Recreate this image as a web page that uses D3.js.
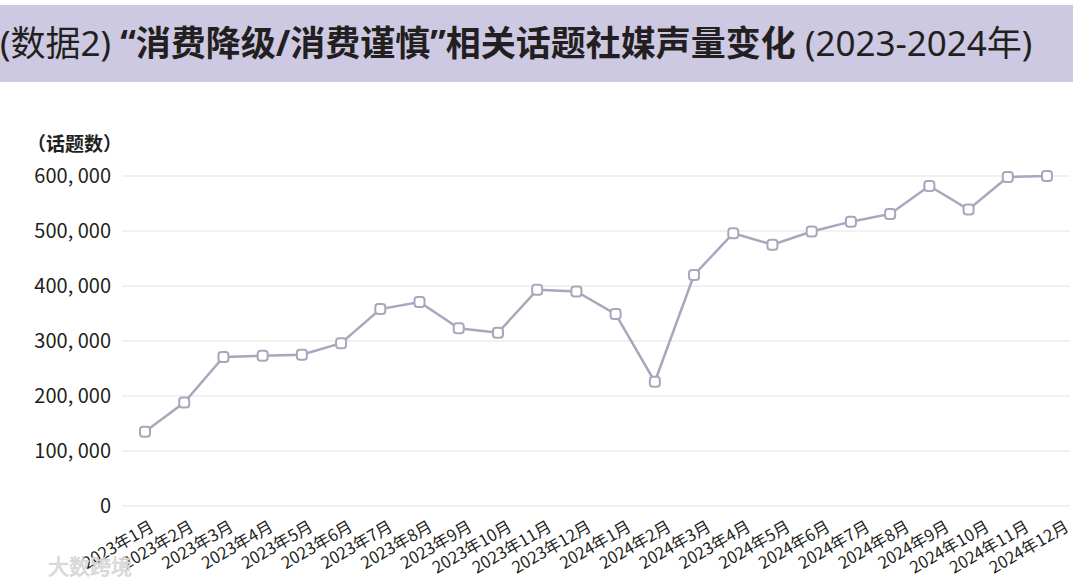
<!DOCTYPE html>
<html><head><meta charset="utf-8">
<script src="https://cdn.jsdelivr.net/npm/d3@7"></script>
<style>
html,body{margin:0;padding:0;background:#fff;}
svg{display:block;font-family:"Noto Sans CJK SC","Noto Sans",sans-serif;}
</style></head>
<body><svg id="c" width="1080" height="584"></svg>
<script>
const months = ["2023年1月","2023年2月","2023年3月","2023年4月","2023年5月","2023年6月","2023年7月","2023年8月","2023年9月","2023年10月","2023年11月","2023年12月",
"2024年1月","2024年2月","2024年3月","2023年4月","2024年5月","2024年6月","2024年7月","2024年8月","2024年9月","2024年10月","2024年11月","2024年12月"];
const topics = [135000,188000,271000,273000,275000,296000,358000,371000,323000,315000,393000,390000,
349000,226000,420000,496000,475000,499000,517000,531000,582000,539000,598000,600000];
const yTicks = [0,100000,200000,300000,400000,500000,600000];

const svg = d3.select("#c");
// title banner
svg.append("rect").attr("x",0).attr("y",5).attr("width",1073).attr("height",77).attr("fill","#cdc9e2");
const t = svg.append("text").attr("x",0).attr("y",56).attr("font-size",35).attr("fill","#231f20")
  .style("font-family",'"Noto Sans","Noto Sans CJK SC",sans-serif');
t.append("tspan").attr("font-weight",400).text("(数据2) ");
t.append("tspan").attr("font-weight",700).text("“消费降级/消费谨慎”相关话题社媒声量变化");
t.append("tspan").attr("font-weight",400).text(" (2023-2024年)");

const x = d3.scalePoint().domain(d3.range(months.length)).range([145,1047]);
const xl = d3.scalePoint().domain(d3.range(months.length)).range([155,1070]);
const y = d3.scaleLinear().domain([0,600000]).range([506,176]);

// gridlines
svg.append("g").selectAll("line").data(yTicks).join("line")
  .attr("x1",122).attr("x2",1070).attr("y1",d=>y(d)).attr("y2",d=>y(d))
  .attr("stroke","#ececec").attr("stroke-width",1.5);

// y axis labels
const fmt = d3.format(",");
svg.append("g").selectAll("text").data(yTicks).join("text")
  .attr("x",111).attr("y",d=>y(d)).attr("dy","0.35em").attr("text-anchor","end")
  .attr("font-size",20).attr("fill","#231f20")
  .text(d=>fmt(d).replace(/,/g,", "));
svg.append("text").attr("x",27).attr("y",151)
  .attr("font-size",19).attr("font-weight",700).attr("fill","#231f20").text("（话题数）");

// x labels
svg.append("g").selectAll("text").data(months).join("text")
  .attr("transform",(d,i)=>`translate(${xl(i)},530) rotate(-30)`)
  .attr("text-anchor","end").attr("font-size",16.5).attr("fill","#231f20")
  .text(d=>d);

// line
const line = d3.line().x((d,i)=>x(i)).y(d=>y(d));
svg.append("path").datum(topics).attr("d",line).attr("fill","none")
  .attr("stroke","#a9a6bd").attr("stroke-width",2.5);
svg.append("g").selectAll("rect").data(topics).join("rect")
  .attr("x",(d,i)=>x(i)-5).attr("y",d=>y(d)-5).attr("width",10).attr("height",10).attr("rx",3)
  .attr("fill","#fff").attr("stroke","#a9a6bd").attr("stroke-width",2);

// watermark
svg.append("text").attr("x",48).attr("y",574).attr("font-size",21).attr("fill","#e2e2e2")
  .attr("stroke","#cfcfcf").attr("stroke-width",0.6).text("大数跨境");
</script></body></html>
